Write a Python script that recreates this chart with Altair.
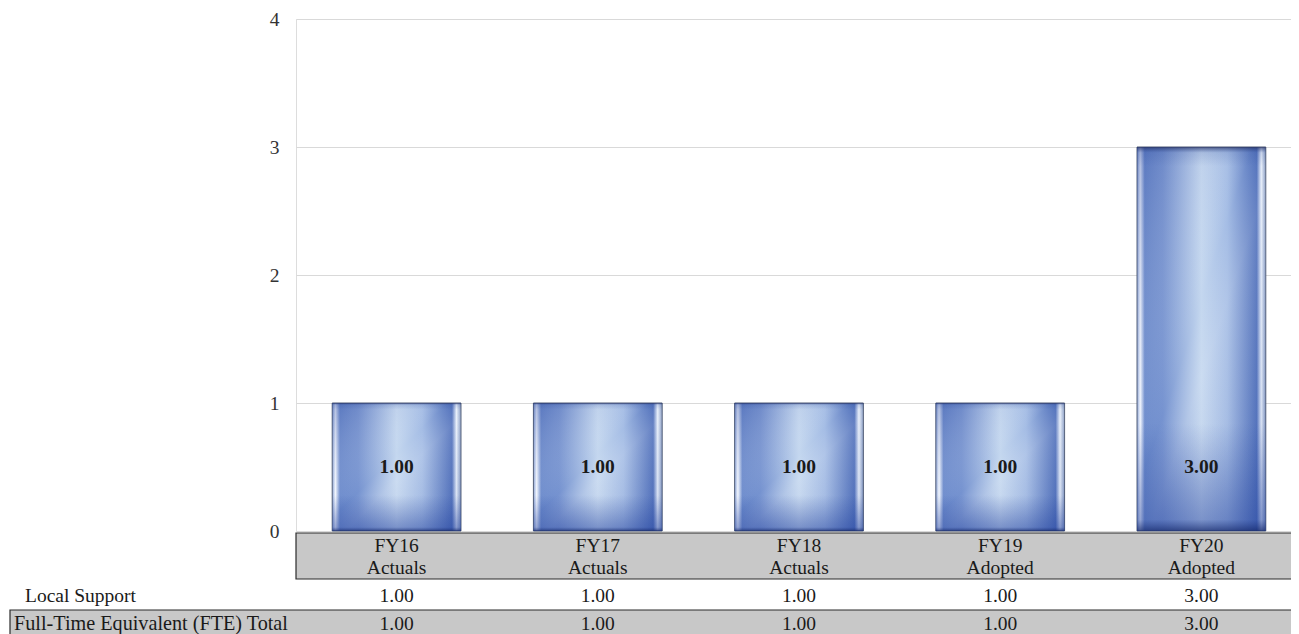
import altair as alt
import pandas as pd

fiscal_years = ["FY16", "FY17", "FY18", "FY19", "FY20"]
stages = ["Actuals", "Actuals", "Actuals", "Adopted", "Adopted"]
local_support = [1.00, 1.00, 1.00, 1.00, 3.00]
fte_total = [1.00, 1.00, 1.00, 1.00, 3.00]
y_ticks = [0, 1, 2, 3, 4]
row_labels = ["Local Support", "Full-Time Equivalent (FTE) Total"]

W, H = 995, 512          # drawable plot width (canvas limited to 1283px)
XR = 1006                # x band range (plot area continues past the page edge)
SERIF = "Liberation Serif"
FS = 19.5

df = pd.DataFrame({
    "cat": [f + " " + s for f, s in zip(fiscal_years, stages)],
    "fy": fiscal_years,
    "stage": stages,
    "local": local_support,
    "fte": fte_total,
})
df["local_txt"] = [f"{v:.2f}" for v in df["local"]]
df["fte_txt"] = [f"{v:.2f}" for v in df["fte"]]

cat_order = list(df["cat"])
xscale = alt.Scale(domain=cat_order, paddingInner=0.36, paddingOuter=0.18, range=[0, XR])
yscale = alt.Scale(domain=[0, 4], nice=False)

base = alt.Chart(df)

x_enc = alt.X("cat:N", scale=xscale, sort=cat_order, axis=None)

h_grad = alt.Gradient(
    gradient="linear", x1=0, x2=1, y1=0, y2=0,
    stops=[
        alt.GradientStop(offset=0.0, color="#8aa2d4"),
        alt.GradientStop(offset=0.025, color="#f4f8ff"),
        alt.GradientStop(offset=0.06, color="#6c8bcc"),
        alt.GradientStop(offset=0.2, color="#7693d0"),
        alt.GradientStop(offset=0.5, color="#c4d7ef"),
        alt.GradientStop(offset=0.7, color="#a5bde5"),
        alt.GradientStop(offset=0.93, color="#5070bb"),
        alt.GradientStop(offset=0.965, color="#e6eefa"),
        alt.GradientStop(offset=1.0, color="#7f94bf"),
    ],
)
v_grad = alt.Gradient(
    gradient="linear", x1=0, x2=0, y1=0, y2=1,
    stops=[
        alt.GradientStop(offset=0.0, color="rgba(30,40,90,0.7)"),
        alt.GradientStop(offset=0.015, color="rgba(40,70,150,0.15)"),
        alt.GradientStop(offset=0.05, color="rgba(40,70,150,0.0)"),
        alt.GradientStop(offset=0.72, color="rgba(40,70,160,0.0)"),
        alt.GradientStop(offset=0.97, color="rgba(40,70,160,0.45)"),
        alt.GradientStop(offset=1.0, color="rgba(20,40,110,0.8)"),
    ],
)
d_grad = alt.Gradient(
    gradient="linear", x1=0, x2=1, y1=0, y2=1,
    stops=[
        alt.GradientStop(offset=0.0, color="rgba(40,70,160,0.35)"),
        alt.GradientStop(offset=0.45, color="rgba(255,255,255,0.0)"),
        alt.GradientStop(offset=0.55, color="rgba(255,255,255,0.12)"),
        alt.GradientStop(offset=1.0, color="rgba(40,70,160,0.1)"),
    ],
)

bars = base.mark_bar(color=h_grad, stroke="#4f5b75", strokeWidth=1).encode(
    x=x_enc,
    y=alt.Y("fte:Q", scale=yscale, title=None,
            axis=alt.Axis(values=y_ticks, grid=True, gridColor="#d9d9d9",
                          domain=False, ticks=False, labelFont=SERIF,
                          labelFontSize=FS, labelColor="#333333",
                          labelPadding=17, format="d")),
)
bars_v = base.mark_bar(color=v_grad).encode(x=x_enc, y=alt.Y("fte:Q", scale=yscale))
bars_d = base.mark_bar(color=d_grad).encode(x=x_enc, y=alt.Y("fte:Q", scale=yscale))

bar_labels = base.mark_text(font=SERIF, fontSize=FS, fontWeight="bold",
                            color="#1a1a1a", baseline="middle").encode(
    x=x_enc, y=alt.datum(0.5), text="fte_txt:N"
)

one = alt.Chart(pd.DataFrame({"k": [0]}))
band = one.mark_rect(color="#c8c8c8", stroke="#2b2b2b", strokeWidth=1.2).encode(
    x=alt.value(0), x2=alt.value(W + 10), y=alt.value(H + 2), y2=alt.value(H + 48)
)
fy_text = base.mark_text(font=SERIF, fontSize=FS, color="#1a1a1a", baseline="middle").encode(
    x=x_enc, y=alt.value(H + 15), text="fy:N"
)
stage_text = base.mark_text(font=SERIF, fontSize=FS, color="#1a1a1a", baseline="middle").encode(
    x=x_enc, y=alt.value(H + 37), text="stage:N"
)

local_vals = base.mark_text(font=SERIF, fontSize=FS, color="#1a1a1a", baseline="middle").encode(
    x=x_enc, y=alt.value(H + 65), text="local_txt:N"
)
local_label = one.mark_text(font=SERIF, fontSize=FS, color="#1a1a1a", baseline="middle",
                            align="left", text=row_labels[0]).encode(
    x=alt.value(-271), y=alt.value(H + 65)
)
fte_rect = one.mark_rect(color="#c8c8c8", stroke="#2b2b2b", strokeWidth=1.2).encode(
    x=alt.value(-286), x2=alt.value(W + 10), y=alt.value(H + 79), y2=alt.value(H + 110)
)
fte_vals = base.mark_text(font=SERIF, fontSize=FS, color="#1a1a1a", baseline="middle").encode(
    x=x_enc, y=alt.value(H + 93), text="fte_txt:N"
)
fte_label = one.mark_text(font=SERIF, fontSize=20.2, color="#1a1a1a", baseline="middle",
                          align="left", text=row_labels[1]).encode(
    x=alt.value(-282), y=alt.value(H + 93)
)

chart = alt.layer(
    bars, bars_d, bars_v, bar_labels, band, fy_text, stage_text,
    local_vals, local_label, fte_rect, fte_vals, fte_label,
).properties(
    width=W, height=H,
    autosize=alt.AutoSizeParams(type="none"),
    padding={"left": 288, "top": 11, "right": 0, "bottom": 103},
).configure_view(stroke=None).configure(background="white")

chart.save("out.html", embed_options={"renderer": "svg", "actions": False})
